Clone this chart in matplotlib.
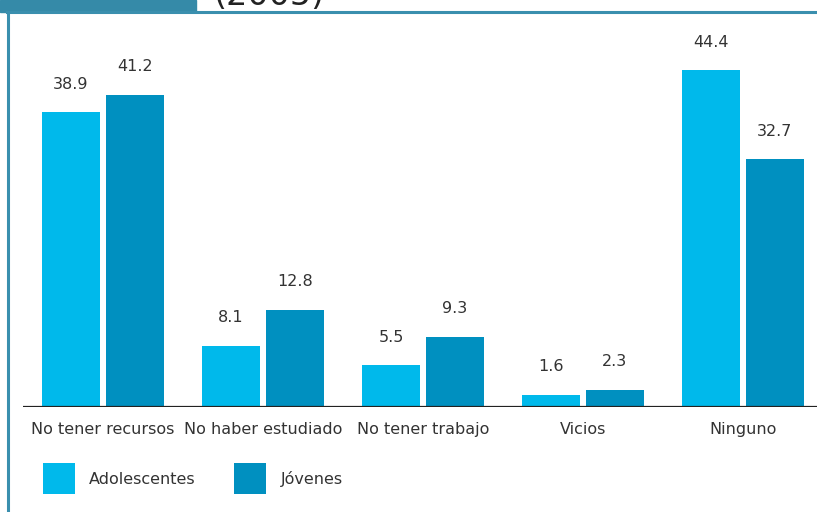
import matplotlib.pyplot as plt
import matplotlib.patches as patches
import numpy as np

# data
categorias = ['No tener recursos', 'No haber estudiado', 'No tener trabajo', 'Vicios', 'Ninguno']
adolescentes = [38.9, 8.1, 5.5, 1.6, 44.4]
jovenes = [41.2, 12.8, 9.3, 2.3, 32.7]
series = ['Adolescentes', 'Jóvenes']
titulo = '(2005)'

c_adol = '#00b9eb'
c_jov = '#0090c0'
c_text = '#333333'
c_frame = '#3a8fae'

W, H = 817, 512
fig = plt.figure(figsize=(W / 100, H / 100), dpi=100)

# frame: tab top-left, top line, left line
fig.patches.append(patches.Rectangle((0, (H - 12) / H), 196 / W, 12 / H,
                                     transform=fig.transFigure, color='#358aa8', zorder=0))
fig.add_artist(plt.Line2D([7 / W, 1], [(H - 12) / H] * 2, transform=fig.transFigure,
                          color=c_frame, lw=2.2))
fig.add_artist(plt.Line2D([8 / W] * 2, [0, (H - 12) / H], transform=fig.transFigure,
                          color=c_frame, lw=2.2))
# title sits mostly above the top edge, as in the reference
fig.text(213 / W, (H - 5) / H, titulo, fontsize=24, color='#222222', va='baseline', ha='left')

# axes: baseline at y=407 px, groups 160 px apart
ax = fig.add_axes([23 / W, (H - 407) / H, (W - 23) / W, (407 - 14) / H])
x = np.arange(len(categorias))
w = 58 / 160
off = 32 / 160
b1 = ax.bar(x - off, adolescentes, w, color=c_adol, label=series[0])
b2 = ax.bar(x + off, jovenes, w, color=c_jov, label=series[1])

for bars, vals in [(b1, adolescentes), (b2, jovenes)]:
    for b, v in zip(bars, vals):
        ax.text(b.get_x() + b.get_width() / 2, v + 3.7, f'{v:.1f}', ha='center', va='center',
                fontsize=11.5, color=c_text)

ax.set_xlim(-0.5, (W - 103) / 160)
ax.set_ylim(0, (407 - 14) / 7.58)
ax.axhline(0, color='#222222', lw=1.6, zorder=3)
ax.axhline(-0.25, color='#c8ccd4', lw=1.5, zorder=2)
for s in ax.spines.values():
    s.set_visible(False)
ax.set_yticks([])
ax.set_xticks(x)
ax.set_xticklabels(categorias, fontsize=11.5, color=c_text)
ax.tick_params(axis='x', length=0, pad=11)

# legend
ax.legend(loc='upper left', bbox_to_anchor=(0.007, -0.107), ncol=2, frameon=False,
          fontsize=11.5, handlelength=2.0, handleheight=2.6, columnspacing=2.4,
          handletextpad=0.9, labelcolor=c_text)

fig.savefig('out.png', dpi=100)
